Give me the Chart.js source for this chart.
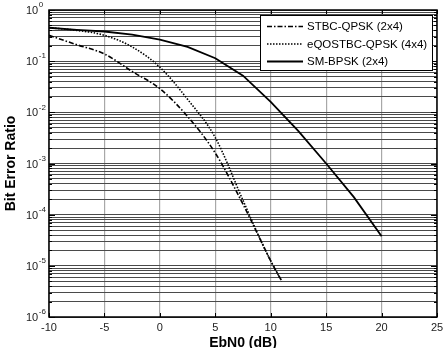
<!DOCTYPE html>
<html><head><meta charset="utf-8">
<script src="https://cdn.jsdelivr.net/npm/chart.js@4/dist/chart.umd.min.js"></script>
<style>html,body{margin:0;padding:0;background:#fff}#wrap{width:447px;height:348px;position:relative}</style>
</head><body><div id="wrap"><canvas id="c"></canvas></div>
<script>
// ---- data ----
const seriesLabels = ['STBC-QPSK (2x4)', 'eQOSTBC-QPSK (4x4)', 'SM-BPSK (2x4)'];
const stbcX = [-10, -7.5, -5, -2.5, 0, 2.5, 5, 7.5, 9, 10, 11];
const stbcY = [0.32, 0.21, 0.138, 0.063, 0.029, 0.0083, 0.0016, 1.6e-4, 3.5e-5, 1.25e-5, 5e-6];
const eqoX = [-10, -7.5, -5, -2.5, 0, 2.5, 5, 7.5, 9, 10, 11];
const eqoY = [0.45, 0.40, 0.32, 0.19, 0.076, 0.018, 0.0032, 1.9e-4, 3.5e-5, 1.25e-5, 5e-6];
const smX = [-10, -7.5, -5, -2.5, 0, 2.5, 5, 7.5, 10, 12.5, 15, 17.5, 20];
const smY = [0.45, 0.41, 0.38, 0.33, 0.265, 0.19, 0.114, 0.052, 0.016, 0.0043, 0.001, 2.2e-4, 3.8e-5];
const xTicks = [-10, -5, 0, 5, 10, 15, 20, 25];
const yExponents = [0, -1, -2, -3, -4, -5, -6];
const xTitle = 'EbN0 (dB)';
const yTitle = 'Bit Error Ratio';

const FONT = '"Liberation Sans", Arial, sans-serif';
const pts = (xs, ys) => xs.map((x, i) => ({x: x, y: ys[i]}));

const decor = {
  id: 'decor',
  afterDraw(chart) {
    const ctx = chart.ctx, a = chart.chartArea, xs = chart.scales.x, ys = chart.scales.y;
    ctx.save();
    // inward tick marks
    ctx.strokeStyle = '#000'; ctx.lineWidth = 1;
    ys.ticks.forEach(t => {
      const y = Math.round(ys.getPixelForValue(t.value)) + 0.5;
      const len = t.major ? 6 : 3;
      ctx.beginPath();
      ctx.moveTo(a.left, y); ctx.lineTo(a.left + len, y);
      ctx.moveTo(a.right, y); ctx.lineTo(a.right - len, y);
      ctx.stroke();
    });
    xTicks.forEach(v => {
      const x = Math.round(xs.getPixelForValue(v)) + 0.5;
      ctx.beginPath();
      ctx.moveTo(x, a.bottom); ctx.lineTo(x, a.bottom - 4);
      ctx.moveTo(x, a.top); ctx.lineTo(x, a.top + 4);
      ctx.stroke();
    });
    // frame
    ctx.lineWidth = 1.5;
    ctx.strokeRect(a.left, a.top, a.right - a.left, a.bottom - a.top);
    // y tick labels
    ctx.fillStyle = '#222'; ctx.textBaseline = 'middle'; ctx.textAlign = 'left';
    yExponents.forEach(e => {
      const y = ys.getPixelForValue(Math.pow(10, e));
      ctx.font = '11px ' + FONT;
      ctx.fillText('10', 26, y + 1);
      const w = ctx.measureText('10').width;
      ctx.font = '8px ' + FONT;
      ctx.fillText(String(e), 26 + w + 0.5, y - 5);
    });
    // x tick labels
    ctx.font = '11px ' + FONT; ctx.textAlign = 'center';
    xTicks.forEach(v => ctx.fillText(String(v), xs.getPixelForValue(v), 327.5));
    // axis titles
    ctx.fillStyle = '#000';
    ctx.font = 'bold 14px ' + FONT;
    ctx.fillText(xTitle, (a.left + a.right) / 2, 343);
    ctx.save();
    ctx.translate(11.5, (a.top + a.bottom) / 2);
    ctx.rotate(-Math.PI / 2);
    ctx.fillText(yTitle, 0, 0);
    ctx.restore();
    // legend
    const lx = 260.5, ly = 15.5, lw = 172, lh = 55;
    ctx.fillStyle = '#fff'; ctx.fillRect(lx, ly, lw, lh);
    ctx.strokeStyle = '#000'; ctx.lineWidth = 1; ctx.strokeRect(lx, ly, lw, lh);
    const rows = [26.5, 44, 61.5];
    chart.data.datasets.forEach((ds, i) => {
      ctx.strokeStyle = ds.borderColor; ctx.lineWidth = ds.borderWidth;
      ctx.setLineDash(ds.borderDash || []);
      ctx.beginPath(); ctx.moveTo(267, rows[i]); ctx.lineTo(303, rows[i]); ctx.stroke();
      ctx.setLineDash([]);
      ctx.fillStyle = '#000'; ctx.font = '11.5px ' + FONT; ctx.textAlign = 'left';
      ctx.fillText(ds.label, 307, rows[i] + 0.5);
    });
    ctx.restore();
  }
};

new Chart(document.getElementById('c'), {
  type: 'line',
  data: {
    datasets: [
      {label: seriesLabels[0], data: pts(stbcX, stbcY), borderColor: '#000', borderWidth: 1.6, borderDash: [5, 2, 1.5, 2], pointRadius: 0, fill: false, cubicInterpolationMode: 'monotone'},
      {label: seriesLabels[1], data: pts(eqoX, eqoY), borderColor: '#000', borderWidth: 1.6, borderDash: [1.5, 1.5], pointRadius: 0, fill: false, cubicInterpolationMode: 'monotone'},
      {label: seriesLabels[2], data: pts(smX, smY), borderColor: '#000', borderWidth: 1.8, pointRadius: 0, fill: false}
    ]
  },
  options: {
    responsive: true, maintainAspectRatio: false, animation: false,
    layout: {padding: {left: 49, right: 10, top: 10, bottom: 31}},
    plugins: {legend: {display: false}, tooltip: {enabled: false}},
    scales: {
      x: {
        type: 'linear', min: -10, max: 25,
        ticks: {display: false, stepSize: 5},
        grid: {color: '#a8a8a8', lineWidth: 1.2, drawTicks: false},
        border: {display: false}
      },
      y: {
        type: 'logarithmic', min: 1e-6, max: 1,
        afterBuildTicks: (scale) => {
          const t = [];
          for (let e = -6; e <= 0; e++) {
            for (let m = 1; m <= 9; m++) {
              const v = m * Math.pow(10, e);
              if (v <= 1) t.push({value: v, major: m === 1});
            }
          }
          scale.ticks = t;
        },
        ticks: {display: false},
        grid: {color: '#4a4a4a', lineWidth: 1, drawTicks: false},
        border: {display: false}
      }
    }
  },
  plugins: [decor]
});
</script></body></html>
